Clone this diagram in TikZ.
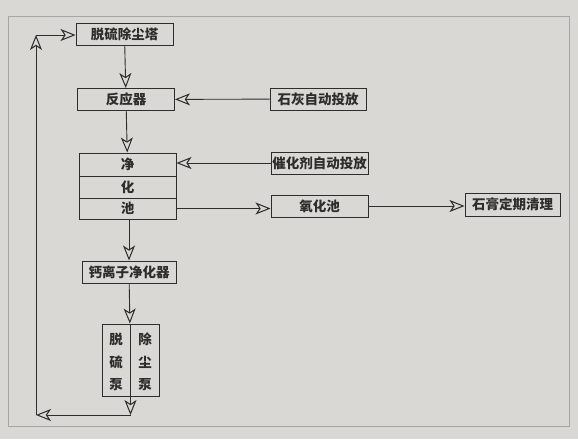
\documentclass[tikz,border=0pt]{standalone}
\usepackage{xcolor}
\usepackage{fontspec}
\usetikzlibrary{arrows.meta}
\newfontfamily\cjk{Noto Sans CJK SC}
\definecolor{paper}{RGB}{218,216,213}
\definecolor{ink}{RGB}{45,45,45}
\tikzset{
 box/.style={draw=ink, line width=1pt, fill=paper, inner sep=0pt, minimum width=97pt, minimum height=22pt, font=\cjk\bfseries\fontsize{13.5}{15}\selectfont, text=ink},
 flow/.style={draw=ink, line width=0.9pt, -{Stealth[open, length=15pt, width=12pt, inset=4pt, line width=1pt]}},
 plain/.style={draw=ink, line width=0.9pt}
}

\begin{document}
\begin{tikzpicture}[x=1pt,y=-1pt]
\useasboundingbox[fill=paper] (0,0) rectangle (578,439);
\draw[gray!70, line width=0.7pt] (8,16) rectangle (569,426);
\node[box] (tower) at (124.5,34.5) {脱硫除尘塔};
\node[box] (reactor) at (126,99.5) {反应器};
\node[box, minimum width=96pt] (lime) at (318,99) {石灰自动投放};
\node[box, minimum height=23pt] (poolA) at (127.5,164.5) {净};
\node[box] (poolB) at (127.5,187) {化};
\node[box, minimum height=21pt] (poolC) at (127.5,208.5) {池};
\node[box] (catalyst) at (319.5,163) {催化剂自动投放};
\node[box] (oxid) at (319.5,206) {氧化池};
\node[box, minimum width=95pt, minimum height=23pt] (gypsum) at (512.5,204.5) {石膏定期清理};
\node[box, minimum width=94pt] (calcium) at (129,272) {钙离子净化器};
\node[box, minimum width=57pt, minimum height=72pt] (pump) at (130.5,360) {};
\node[box, draw=none, fill=none, minimum width=0pt, align=center, font=\cjk\bfseries\fontsize{13.5}{22.5}\selectfont] (pumpL) at (116,362) {脱\\硫\\泵};
\node[box, draw=none, fill=none, minimum width=0pt, align=center, font=\cjk\bfseries\fontsize{13.5}{22.5}\selectfont] (pumpR) at (145,362) {除\\尘\\泵};
\coordinate (loopR) at (130.5,415);
\coordinate (loopL) at (36,415);
\coordinate (loopT) at (36,35);
%
\draw[flow] (tower) -- (reactor);
\draw[flow] (lime) -- (reactor);
\draw[flow] (reactor) -- (poolA);
\draw[flow] (catalyst.west) -- (catalyst.west -| poolA.east);
\draw[flow] (poolC.east) -- (poolC.east -| oxid.west);
\draw[flow] (oxid.east) -- (oxid.east -| gypsum.west);
\draw[flow] (poolC.south -| calcium.north) -- (calcium.north);
\draw[plain] (pump.north) -- (pump.south);
\draw[flow] (calcium) -- (pump);
\draw[flow] (pump.south) -- (loopR);
\draw[flow] (loopR) -- (loopL);
\draw[flow] (loopL) -- (loopT);
\draw[flow] (loopT) -- (loopT -| tower.west);
\end{tikzpicture}
\end{document}
